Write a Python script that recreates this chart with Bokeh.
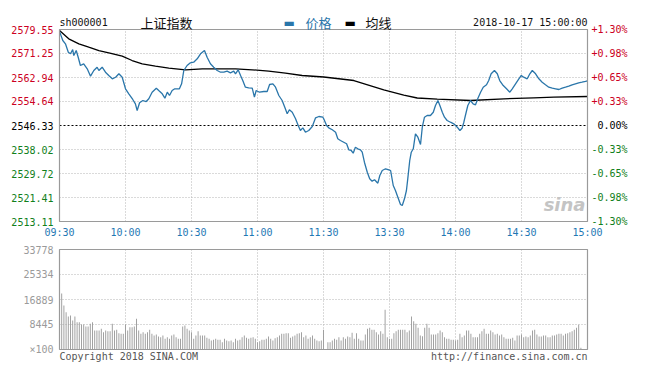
from bokeh.plotting import figure
from bokeh.models import Range1d, LinearAxis
from bokeh.models import Range1d
from bokeh.embed import file_html
from bokeh.resources import INLINE
from bokeh.core.properties import value

# ---------------- data ----------------
symbol = "sh000001"
index_name = "上证指数"
legend_price = "价格"
legend_avg = "均线"
date_text = "2018-10-17 15:00:00"
copyright_text = "Copyright 2018 SINA.COM"
url_text = "http://finance.sina.com.cn"

prev_close = 2546.33
price_ticks = [2513.11, 2521.41, 2529.72, 2538.02, 2546.33, 2554.64, 2562.94, 2571.25, 2579.55]
pct_labels = ["-1.30%", "-0.98%", "-0.65%", "-0.33%", "0.00%", "+0.33%", "+0.65%", "+0.98%", "+1.30%"]
time_ticks = [0, 30, 60, 90, 120, 150, 180, 210, 240]
time_labels = ["09:30", "10:00", "10:30", "11:00", "11:30", "13:30", "14:00", "14:30", "15:00"]
vol_ticks = [0, 8445, 16889, 25334, 33778]
vol_labels = ["×100", "8445", "16889", "25334", "33778"]

# minute index (0 = 09:30, 120 = 11:30/13:00, 240 = 15:00)
price_min = [0, 1.5, 2.7, 4.0, 5.0, 6.0, 6.5, 7.6, 8.5, 9.5, 11.0, 12.6, 14.1, 15.6, 17.1, 17.9,
             19.4, 20.9, 22.4, 24.0, 25.5, 27.0, 28.5, 30.0, 31.5, 33.3, 34.5, 35.3, 36.4, 37.9,
             39.4, 40.6, 42.1, 44.0, 45.1, 46.7, 47.9, 49.0, 50.0, 51.2, 52.4, 54.5, 55.5, 56.5,
             58.0, 59.5, 61.0, 62.6, 64.1, 65.9, 67.1, 68.6, 70.1, 71.7, 73.2, 74.7, 76.2, 77.7,
             79.2, 80.0, 81.2, 82.3, 83.3, 84.5, 86.0, 87.6, 88.6, 89.4, 90.9, 92.9, 94.4, 95.5,
             97.0, 98.2, 99.7, 101.2, 102.4, 103.5, 104.5, 105.8, 107.3, 108.5, 109.5, 110.6,
             111.8, 113.3, 114.9, 116.4, 117.9, 119.7, 120.1, 121.4, 122.4, 124.0, 125.5, 126.5,
             127.7, 129.2, 130.5, 131.5, 132.6, 133.5, 134.5, 135.6, 136.8, 137.6, 138.6, 139.9,
             141.0, 142.1, 143.2, 144.7, 145.6, 146.7, 148.2, 149.7, 150.5, 151.7, 152.7, 153.8,
             155.0, 155.8, 156.8, 157.7, 158.3, 159.2, 159.9, 160.8, 161.8, 162.9, 164.1, 164.9,
             165.9, 167.1, 168.6, 169.9, 170.9, 172.0, 172.9, 174.0, 175.0, 176.2, 177.7, 179.2,
             180.8, 182.0, 183.0, 183.8, 184.5, 185.6, 186.8, 188.0, 189.1, 190.1, 191.4, 192.6,
             194.1, 195.1, 196.2, 197.7, 199.0, 200.1, 201.7, 203.2, 204.7, 205.8, 207.3, 208.8,
             209.9, 211.0, 212.6, 213.8, 214.9, 216.4, 217.9, 219.4, 220.9, 222.4, 224.0, 225.5,
             227.0, 228.5, 230.0, 231.5, 233.0, 234.5, 236.0, 237.5, 239.1, 240.0]
price_val = [2578.90, 2575.74, 2574.60, 2571.69, 2571.14, 2572.63, 2570.55, 2572.28, 2569.96, 2567.09,
             2567.68, 2565.95, 2563.39, 2565.36, 2566.50, 2565.36, 2566.50, 2564.77, 2563.63, 2562.49,
             2563.04, 2564.22, 2563.04, 2559.03, 2557.30, 2555.33, 2553.84, 2551.52, 2554.19, 2554.98,
             2554.63, 2555.57, 2557.85, 2559.24, 2558.44, 2557.30, 2555.78, 2557.85, 2556.71, 2558.44,
             2559.03, 2559.03, 2560.76, 2565.36, 2567.09, 2568.03, 2568.24, 2569.41, 2571.14, 2572.28,
             2569.96, 2567.68, 2566.50, 2565.36, 2564.77, 2564.77, 2565.12, 2564.57, 2565.12, 2564.22,
             2565.60, 2563.63, 2561.90, 2559.58, 2559.38, 2559.24, 2556.12, 2558.44, 2557.85, 2558.10,
             2558.10, 2560.52, 2560.76, 2559.58, 2556.71, 2554.98, 2552.66, 2550.38, 2551.76, 2550.93,
             2548.65, 2546.33, 2544.60, 2545.53, 2544.01, 2544.60, 2545.99, 2549.00, 2549.44, 2549.20,
             2548.65, 2546.33, 2545.53, 2544.84, 2544.01, 2541.73, 2541.14, 2540.55, 2540.00, 2537.92,
             2537.68, 2536.75, 2538.82, 2538.27, 2537.92, 2537.09, 2533.63, 2530.17, 2527.88, 2527.06,
             2527.54, 2526.37, 2529.03, 2530.76, 2531.35, 2531.00, 2530.76, 2525.57, 2523.84, 2521.52,
             2519.00, 2518.65, 2520.97, 2523.84, 2527.88, 2534.22, 2537.09, 2538.27, 2543.46, 2542.28,
             2539.76, 2545.74, 2549.20, 2549.79, 2549.79, 2550.93, 2553.25, 2554.98, 2553.25, 2550.93,
             2549.20, 2548.06, 2547.47, 2546.92, 2545.74, 2544.60, 2545.40, 2547.47, 2549.79, 2553.25,
             2554.98, 2553.84, 2553.49, 2555.57, 2557.85, 2559.58, 2560.41, 2561.90, 2564.22, 2565.36,
             2564.22, 2561.90, 2560.17, 2559.03, 2557.85, 2559.03, 2560.76, 2562.49, 2563.63, 2563.04,
             2562.49, 2564.22, 2565.36, 2564.22, 2562.49, 2561.31, 2560.41, 2559.58, 2559.24, 2559.03,
             2558.79, 2559.24, 2559.58, 2559.93, 2560.41, 2560.76, 2561.11, 2561.31, 2561.56, 2561.80]

avg_min = [0, 4.2, 8.8, 13.3, 17.9, 22.4, 28.5, 33.0, 37.6, 43.6, 49.7, 57.3, 64.9, 80.0, 87.6,
           95.1, 102.7, 110.3, 120.1, 133.8, 147.4, 156.5, 162.6, 171.7, 186.8, 202.0, 215.6,
           224.7, 240.0]
avg_val = [2579.20, 2576.33, 2574.60, 2573.43, 2572.28, 2571.49, 2570.31, 2568.82, 2567.68, 2566.85,
           2566.16, 2565.60, 2565.95, 2565.95, 2565.60, 2565.12, 2564.43, 2563.63, 2563.11, 2561.90,
           2558.68, 2556.82, 2555.85, 2555.43, 2554.98, 2555.57, 2555.92, 2556.12, 2556.37]

# volume (x100 shares), one bar per minute
vol_am = [18900, 14860, 12610, 11150, 11490, 9800, 11150, 9230, 9230, 8450,
          8450, 7770, 7770, 8670, 9230, 6420, 6420, 6420, 6980, 5860,
          6420, 6190, 6190, 8670, 6420, 6640, 5520, 5290, 5290, 8450,
          6420, 7540, 7540, 7770, 10360, 6420, 5290, 5860, 5290, 5860,
          6640, 5290, 4730, 5070, 4390, 4170, 4730, 3600, 4170, 3600,
          4730, 5070, 4170, 3600, 3600, 7770, 8110, 6980, 6420, 5860,
          3600, 4730, 6190, 4730, 4730, 4730, 3940, 3600, 3040, 3270,
          3600, 3270, 3270, 2480, 3600, 3040, 2820, 3040, 2480, 3600,
          3040, 3270, 4170, 4730, 3940, 3600, 3940, 4170, 3600, 2480,
          2820, 3270, 3270, 3600, 4390, 3600, 3040, 3830, 4170, 4730,
          5290, 5290, 5520, 5520, 3940, 4390, 4730, 5290, 5520, 5860,
          4170, 4730, 3600, 4170, 4730, 3600, 3040, 2820, 3040, 6640]
vol_pm = [2480, 2480, 3040, 3600, 3270, 4170, 3040, 4170, 3600, 4390,
          4170, 5630, 3600, 5520, 3600, 3040, 3040, 5070, 6980, 7320,
          6640, 6640, 5860, 5070, 6190, 5290, 13400, 4170, 3600, 3600,
          5520, 6190, 6640, 6640, 6640, 6640, 5860, 6420, 11150, 9570,
          8670, 7320, 4730, 4500, 7320, 8670, 7320, 5070, 5070, 5070,
          5520, 6420, 5860, 4170, 3600, 3600, 3270, 3270, 3040, 3270,
          5290, 4170, 4730, 6420, 6420, 5290, 4170, 4170, 4170, 5290,
          6190, 6980, 5290, 5290, 6420, 5860, 5070, 5290, 4730, 5070,
          4170, 3600, 3600, 3600, 3940, 3040, 4730, 4730, 5070, 4170,
          4390, 4170, 4730, 6420, 6640, 5070, 4390, 4390, 4730, 4730,
          4170, 4170, 4730, 4730, 5070, 5290, 5290, 4730, 5290, 5520,
          5860, 6190, 6640, 7320, 8330, 560]

# ---------------- layout (pixels) ----------------
W, H = 648, 365
PX_L, PX_R = 59, 587          # panel left / right
PR_T, PR_B = 29, 221          # price panel top / bottom
VO_T, VO_B = 249, 349         # volume panel top / bottom

MONO = "DejaVu Sans Mono"
CJK = "Noto Sans CJK SC"
RED = "#cc0022"
GREEN = "#11801a"
BLUE = "#1f78b4"
LINE_BLUE = "#2a76aa"
GRID = "#b4b4b4"
FRAME = "#9a9a9a"

# scales: the whole canvas is the plotting frame, the panels are placed by the ranges
t0, t1 = time_ticks[0], time_ticks[-1]
ppx = (t1 - t0) / (PX_R - PX_L)
x_rng = Range1d(t0 - PX_L * ppx, t1 + (W - PX_R) * ppx)
p_lo, p_hi = price_ticks[0], price_ticks[-1]
yp = (p_hi - p_lo) / (PR_B - PR_T)
y_rng = Range1d(p_lo - (H - PR_B) * yp, p_hi + PR_T * yp)
v_hi = vol_ticks[-1]
yv = v_hi / (VO_B - VO_T)
v_rng = Range1d(0 - (H - VO_B) * yv, v_hi + VO_T * yv)

p = figure(width=W, height=H, output_backend="svg", toolbar_location=None,
           x_range=x_rng, y_range=y_rng, x_axis_location=None, y_axis_location=None,
           min_border=0, min_border_left=0, min_border_right=0, min_border_top=0, min_border_bottom=0)
p.extra_y_ranges = {"vol": v_rng}
p.outline_line_color = None
p.background_fill_color = "white"
p.border_fill_color = "white"
p.xgrid.visible = False
p.ygrid.visible = False

# ---- price panel grid ----
inner_t = time_ticks[1:-1]
p.segment(x0=inner_t, y0=[p_lo] * len(inner_t), x1=inner_t, y1=[p_hi] * len(inner_t),
          line_color=GRID, line_dash="1 2", line_width=1)
inner_p = [v for v in price_ticks[1:-1] if v != prev_close]
p.segment(x0=[t0] * len(inner_p), y0=inner_p, x1=[t1] * len(inner_p), y1=inner_p,
          line_color=GRID, line_dash="1 2", line_width=1)
p.segment(x0=[t0], y0=[prev_close], x1=[t1], y1=[prev_close],
          line_color="black", line_dash="2 2", line_width=1)

# ---- volume panel grid ----
inner_v = vol_ticks[1:-1]
p.segment(x0=inner_t, y0=[0] * len(inner_t), x1=inner_t, y1=[v_hi] * len(inner_t),
          line_color=GRID, line_dash="1 2", line_width=1, y_range_name="vol")
p.segment(x0=[t0] * len(inner_v), y0=inner_v, x1=[t1] * len(inner_v), y1=inner_v,
          line_color=GRID, line_dash="1 2", line_width=1, y_range_name="vol")

# ---- volume bars ----
am_x = list(range(1, len(vol_am) + 1))
pm_x = list(range(122, 122 + len(vol_pm)))
p.vbar(x=am_x + pm_x, top=vol_am + vol_pm, bottom=0, width=0.42,
       fill_color="#9a9a9a", line_color=None, y_range_name="vol")

# ---- price & average lines ----
p.line(avg_min, avg_val, line_color="black", line_width=1.3)
p.line(price_min, price_val, line_color=LINE_BLUE, line_width=1.3)

# ---- panel frames ----
p.quad(left=[t0], right=[t1], bottom=[p_lo], top=[p_hi], fill_color=None,
       line_color=FRAME, line_width=1.2)
p.quad(left=[t0], right=[t1], bottom=[0], top=[v_hi], fill_color=None,
       line_color=FRAME, line_width=1.2, y_range_name="vol")

# ---- texts ----
def lvl_color(i):
    return RED if i > 4 else ("black" if i == 4 else GREEN)

colors = [lvl_color(i) for i in range(len(price_ticks))]
p.text(x=[t0] * len(price_ticks), y=price_ticks, text=[f"{v:.2f}" for v in price_ticks],
       x_offset=-6, text_align="right", text_baseline="middle", text_color=colors,
       text_font=value(MONO), text_font_size="10px")
p.text(x=[t1] * len(price_ticks), y=price_ticks, text=pct_labels,
       x_offset=40, text_align="right", text_baseline="middle", text_color=colors,
       text_font=value(MONO), text_font_size="10px")
p.text(x=time_ticks, y=[p_lo] * len(time_ticks), text=time_labels, y_offset=11,
       text_align="center", text_baseline="middle", text_color=BLUE,
       text_font=value(MONO), text_font_size="10px")
p.text(x=[t0] * len(vol_ticks), y=vol_ticks, text=vol_labels, x_offset=-6,
       text_align="right", text_baseline="middle", text_color="#9a9a9a",
       text_font=value(MONO), text_font_size="10px", y_range_name="vol")

# header row
hdr_y = [p_hi]
def hdr(text, x, dx, color="#111111", font=MONO, size="10px", align="left"):
    p.text(x=[x], y=hdr_y, text=[text], x_offset=dx, y_offset=-7, text_align=align,
           text_baseline="middle", text_color=color, text_font=value(font), text_font_size=size)

hdr(symbol, t0, 0)
hdr(index_name, t0, 81, font=CJK, size="13px")
hdr("▬", t0, 224, color=LINE_BLUE, font="DejaVu Sans", size="12px")
hdr(legend_price, t0, 246, color=LINE_BLUE, font=CJK, size="13px")
hdr("▬", t0, 285, color="black", font="DejaVu Sans", size="12px")
hdr(legend_avg, t0, 306, font=CJK, size="13px")
hdr(date_text, t1, 0, align="right")

# watermark
p.text(x=[t1], y=[p_lo], text=["sina"], x_offset=-2, y_offset=-7, text_align="right",
       text_baseline="bottom", text_color="#c4c4c4", text_font=value("DejaVu Sans"),
       text_font_size="18px", text_font_style="bold italic")

# footer
p.text(x=[t0], y=[0], text=[copyright_text], y_offset=7, text_align="left",
       text_baseline="middle", text_color="#555555", text_font=value(MONO),
       text_font_size="10px", y_range_name="vol")
p.text(x=[t1], y=[0], text=[url_text], y_offset=7, text_align="right",
       text_baseline="middle", text_color="#555555", text_font=value(MONO),
       text_font_size="10px", y_range_name="vol")

open("out.html", "w").write(file_html(p, INLINE))
